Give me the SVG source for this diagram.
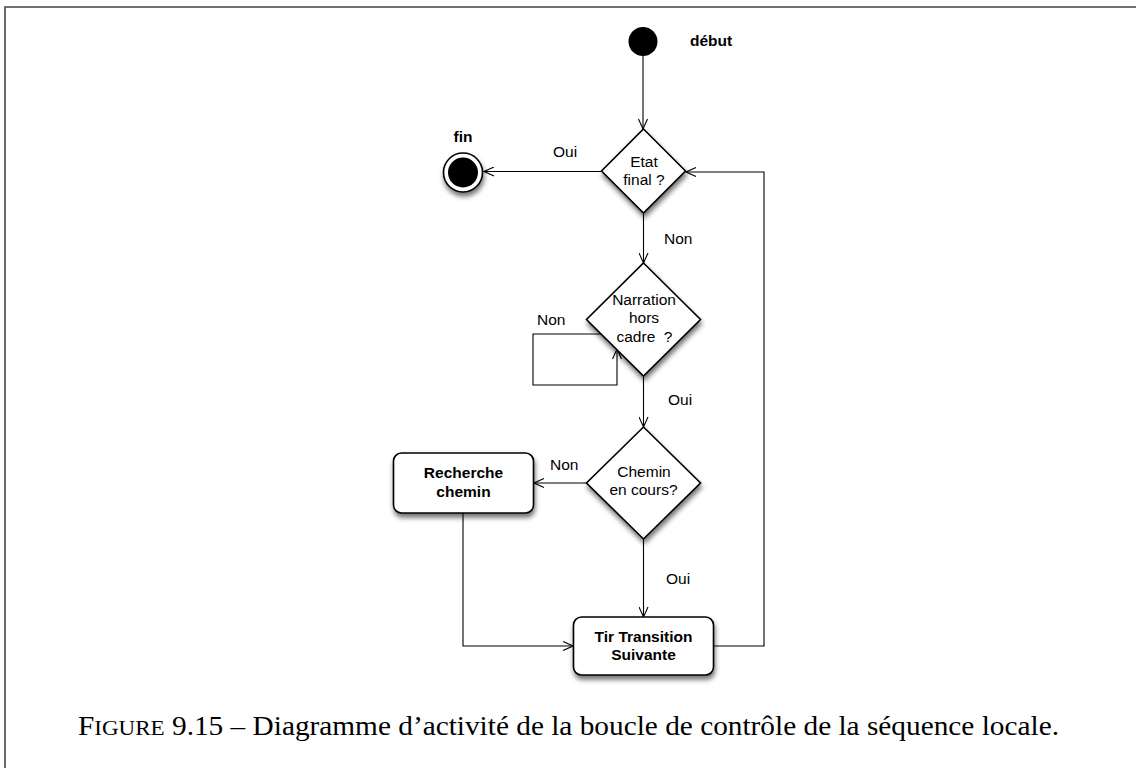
<svg xmlns="http://www.w3.org/2000/svg" width="1136" height="768" viewBox="0 0 1136 768">
<defs>
<style>
.lbl{font-family:"Liberation Sans",Arial,sans-serif;font-size:15.5px;fill:#000}
.b{font-weight:bold}
.node{fill:#fff;stroke:#000;stroke-width:1.6}
.conn{fill:none;stroke:#000;stroke-width:1.1}
.cap{font-family:"Liberation Serif","Times New Roman",serif;font-size:28px;fill:#000}
</style>
<marker id="arr" viewBox="0 0 12 10" refX="11" refY="5" markerWidth="12" markerHeight="10" markerUnits="userSpaceOnUse" orient="auto">
<path d="M1,0.5 L11,5 L1,9.5" fill="none" stroke="#000" stroke-width="1.1"/>
</marker>
<filter id="sh" x="-30%" y="-30%" width="170%" height="170%">
<feDropShadow dx="1" dy="4" stdDeviation="2.5" flood-color="#000" flood-opacity="0.55"/>
</filter>
</defs>
<rect width="1136" height="768" fill="#fff"/>
<path d="M5,768 L5,7 L1136,7" fill="none" stroke="#444" stroke-width="1.6"/>

<g id="connectors">
<path class="conn" d="M643,56 L643,129" marker-end="url(#arr)"/>
<path class="conn" d="M601,171.5 L484,171.5" marker-end="url(#arr)"/>
<path class="conn" d="M643.5,213 L643.5,263" marker-end="url(#arr)"/>
<path class="conn" d="M602,334 L533,334 L533,385 L617,385 L617,349" marker-end="url(#arr)"/>
<path class="conn" d="M643.5,376 L643.5,427" marker-end="url(#arr)"/>
<path class="conn" d="M587,483 L534,483" marker-end="url(#arr)"/>
<path class="conn" d="M643.5,539 L643.5,617" marker-end="url(#arr)"/>
<path class="conn" d="M463,513 L463,646 L573,646" marker-end="url(#arr)"/>
<path class="conn" d="M713,646 L764,646 L764,172 L686,172" marker-end="url(#arr)"/>
<text class="lbl" x="553" y="157">Oui</text>
<text class="lbl" x="664" y="244">Non</text>
<text class="lbl" x="537" y="325">Non</text>
<text class="lbl" x="668" y="405">Oui</text>
<text class="lbl" x="550" y="470">Non</text>
<text class="lbl" x="666" y="584">Oui</text>
</g>

<g id="start">
<circle cx="643" cy="41.5" r="14.5" fill="#000"/>
<text class="lbl b" x="690" y="46">début</text>
</g>

<g id="fin">
<circle cx="463" cy="172.5" r="19.5" class="node" filter="url(#sh)"/>
<circle cx="463" cy="172.5" r="15" fill="#000"/>
<text class="lbl b" x="463" y="142" text-anchor="middle">fin</text>
</g>

<g id="etat-final">
<polygon class="node" points="643.5,129 685.5,171 643.5,213 601.5,171" filter="url(#sh)"/>
<text class="lbl" x="644" y="167" text-anchor="middle">Etat</text>
<text class="lbl" x="644" y="185" text-anchor="middle">final ?</text>
</g>

<g id="narration">
<polygon class="node" points="643.5,263 700.5,319.5 643.5,376 586.5,319.5" filter="url(#sh)"/>
<text class="lbl" x="644" y="305" text-anchor="middle">Narration</text>
<text class="lbl" x="644" y="323" text-anchor="middle">hors</text>
<text class="lbl" x="644.5" y="341.5" text-anchor="middle" xml:space="preserve">cadre  ?</text>
</g>

<g id="chemin">
<polygon class="node" points="643.5,427 700.5,483 643.5,539 586.5,483" filter="url(#sh)"/>
<text class="lbl" x="644" y="477" text-anchor="middle">Chemin</text>
<text class="lbl" x="643.5" y="495" text-anchor="middle">en cours?</text>
</g>

<g id="recherche">
<rect class="node" x="393.5" y="453" width="140" height="60" rx="8" filter="url(#sh)"/>
<text class="lbl b" x="463.5" y="478" text-anchor="middle">Recherche</text>
<text class="lbl b" x="463.5" y="497" text-anchor="middle">chemin</text>
</g>

<g id="tir">
<rect class="node" x="573.5" y="617" width="140" height="58" rx="8" filter="url(#sh)"/>
<text class="lbl b" x="643.5" y="641.5" text-anchor="middle">Tir Transition</text>
<text class="lbl b" x="643.5" y="660" text-anchor="middle">Suivante</text>
</g>

<g id="caption">
<text class="cap" x="78" y="735" textLength="981" lengthAdjust="spacingAndGlyphs">F<tspan font-size="22">IGURE</tspan> 9.15 – Diagramme d’activité de la boucle de contrôle de la séquence locale.</text>
</g>
</svg>
